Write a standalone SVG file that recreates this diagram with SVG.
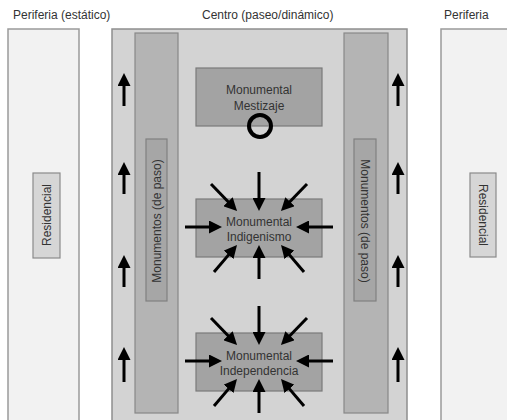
<svg xmlns="http://www.w3.org/2000/svg" width="507" height="420" viewBox="0 0 507 420">
  <defs>
    <marker id="head" markerUnits="userSpaceOnUse" markerWidth="14" markerHeight="13" refX="3" refY="6.5" orient="auto">
      <path d="M0,0 L13,6.5 L0,13 z" fill="#000"/>
    </marker>
    <style>
      .title { font-family: "Liberation Sans", Arial, sans-serif; font-size: 12px; fill: #333; }
      .label { font-family: "Liberation Sans", Arial, sans-serif; font-size: 12px; fill: #333; text-anchor: middle; }
      .periph { fill: #f2f2f2; stroke: #9a9a9a; stroke-width: 1.5; }
      .centre { fill: #d3d3d3; stroke: #8e8e8e; stroke-width: 1.5; }
      .column { fill: #b4b4b4; stroke: #888; stroke-width: 1.2; }
      .tag { fill: #a6a6a6; stroke: #808080; stroke-width: 1.2; }
      .resid { fill: #d6d6d6; stroke: #8a8a8a; stroke-width: 1.2; }
      .monu { fill: #a3a3a3; stroke: #7a7a7a; stroke-width: 1.2; }
      .arrow { stroke: #000; stroke-width: 3; fill: none; marker-end: url(#head); }
    </style>
  </defs>

  <rect width="507" height="420" fill="#fff"/>

  <!-- zone headings -->
  <text class="title" x="13" y="19">Periferia (estático)</text>
  <text class="title" x="202" y="19">Centro (paseo/dinámico)</text>
  <text class="title" x="444" y="19">Periferia</text>

  <!-- left periphery -->
  <g id="periferia-izq">
    <rect class="periph" x="8" y="29" width="71" height="400"/>
    <g id="residencial-izq">
      <rect class="resid" x="33" y="173" width="27" height="85"/>
      <text class="label" transform="translate(50.5,215) rotate(-90)">Residencial</text>
    </g>
  </g>

  <!-- centre (paseo) -->
  <g id="centro">
    <rect class="centre" x="112" y="29" width="295" height="400"/>
  </g>

  <g id="columna-izq">
    <rect class="column" x="135" y="33" width="43" height="380"/>
    <rect class="tag" x="146" y="139" width="21" height="162"/>
    <text class="label" transform="translate(160.5,221) rotate(-90)">Monumentos (de paso)</text>
  </g>

  <g id="columna-der">
    <rect class="column" x="344" y="33" width="44" height="380"/>
    <rect class="tag" x="354" y="139" width="22" height="162"/>
    <text class="label" transform="translate(361,221) rotate(90)">Monumentos (de paso)</text>
  </g>

  <!-- right periphery -->
  <g id="periferia-der">
    <rect class="periph" x="441" y="29" width="80" height="400"/>
    <g id="residencial-der">
      <rect class="resid" x="470" y="173" width="26" height="84"/>
      <text class="label" transform="translate(479,215) rotate(90)">Residencial</text>
    </g>
  </g>

  <!-- monuments -->
  <g id="mestizaje">
    <rect class="monu" x="196" y="68" width="126" height="58"/>
    <text class="label" x="259" y="94">Monumental</text>
    <text class="label" x="259" y="110">Mestizaje</text>
    <circle cx="260" cy="126" r="11" fill="none" stroke="#000" stroke-width="4"/>
  </g>

  <g id="indigenismo">
    <rect class="monu" x="196" y="199" width="126" height="58"/>
    <text class="label" x="259" y="226">Monumental</text>
    <text class="label" x="259" y="241">Indigenismo</text>
  </g>

  <g id="independencia">
    <rect class="monu" x="196" y="333" width="126" height="58"/>
    <text class="label" x="259" y="360">Monumental</text>
    <text class="label" x="259" y="375">Independencia</text>
  </g>

  <!-- connectors -->
  <g id="connectors">
    <!-- flow along the paseo -->
    <g id="flujo-izq">
      <line class="arrow" x1="124" y1="106" x2="124" y2="83"/>
      <line class="arrow" x1="124" y1="194" x2="124" y2="172"/>
      <line class="arrow" x1="124" y1="287" x2="124" y2="265"/>
      <line class="arrow" x1="124" y1="382" x2="124" y2="357"/>
    </g>
    <g id="flujo-der">
      <line class="arrow" x1="398" y1="106" x2="398" y2="83"/>
      <line class="arrow" x1="398" y1="194" x2="398" y2="172"/>
      <line class="arrow" x1="398" y1="287" x2="398" y2="265"/>
      <line class="arrow" x1="398" y1="382" x2="398" y2="357"/>
    </g>
    <!-- convergence on Indigenismo -->
    <g id="hacia-indigenismo">
      <line class="arrow" x1="259" y1="172" x2="259" y2="201"/>
      <line class="arrow" x1="259" y1="279" x2="259" y2="255"/>
      <line class="arrow" x1="185" y1="227" x2="212" y2="227"/>
      <line class="arrow" x1="333" y1="227" x2="306" y2="227"/>
      <line class="arrow" x1="211" y1="184" x2="230.1" y2="203.8"/>
      <line class="arrow" x1="307" y1="184" x2="287.9" y2="203.8"/>
      <line class="arrow" x1="214" y1="272" x2="230.5" y2="252.6"/>
      <line class="arrow" x1="304" y1="272" x2="287.5" y2="252.6"/>
    </g>
    <!-- convergence on Independencia -->
    <g id="hacia-independencia" transform="translate(0,134)">
      <line class="arrow" x1="259" y1="172" x2="259" y2="201"/>
      <line class="arrow" x1="259" y1="279" x2="259" y2="255"/>
      <line class="arrow" x1="185" y1="227" x2="212" y2="227"/>
      <line class="arrow" x1="333" y1="227" x2="306" y2="227"/>
      <line class="arrow" x1="211" y1="184" x2="230.1" y2="203.8"/>
      <line class="arrow" x1="307" y1="184" x2="287.9" y2="203.8"/>
      <line class="arrow" x1="214" y1="272" x2="230.5" y2="252.6"/>
      <line class="arrow" x1="304" y1="272" x2="287.5" y2="252.6"/>
    </g>
  </g>
</svg>
